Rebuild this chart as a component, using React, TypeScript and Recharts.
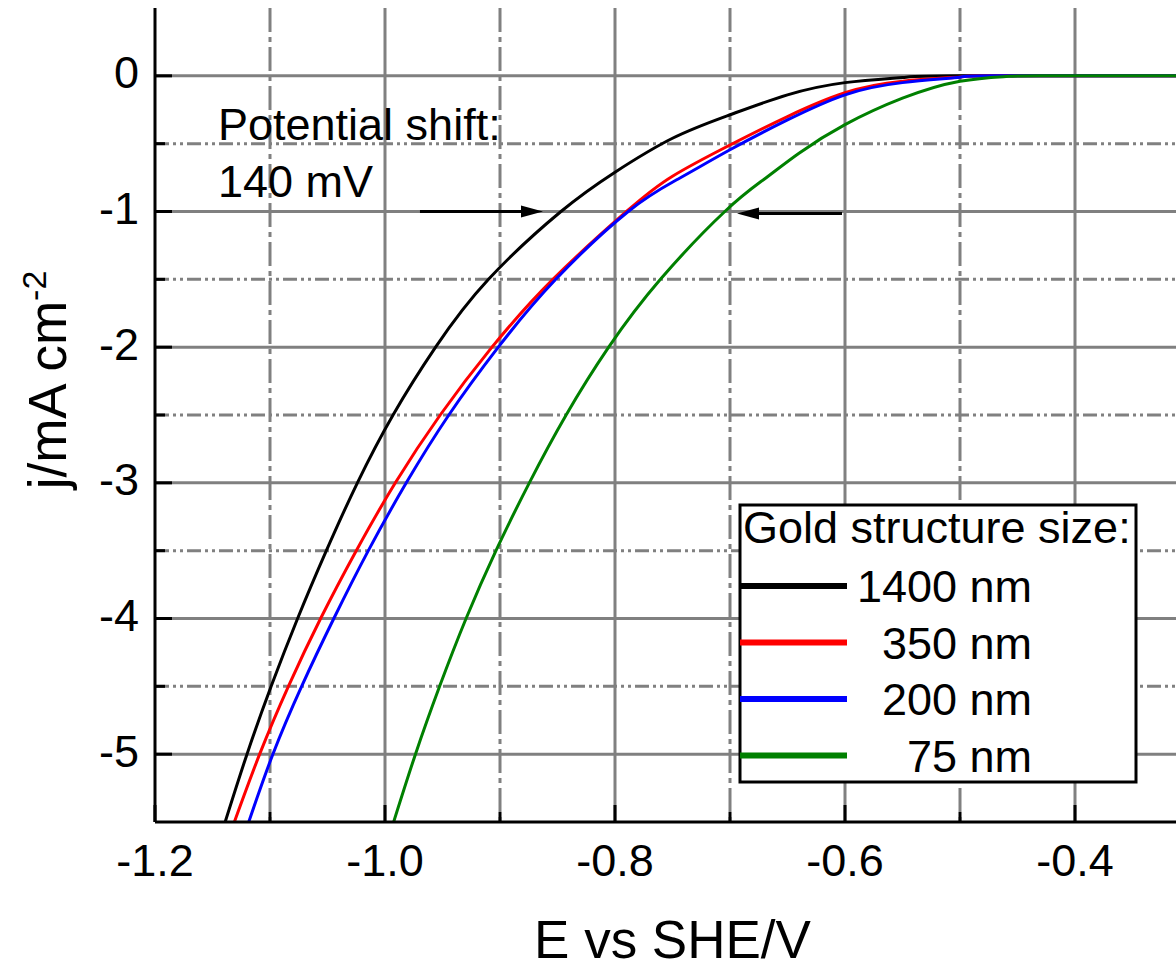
import React from "react";
import {
  LineChart, Line, XAxis, YAxis, CartesianGrid, Legend,
  ReferenceLine, Customized, Label,
} from "recharts";

const FONT = "'Liberation Sans', Arial, Helvetica, sans-serif";

// polarisation curves, E vs SHE / V and current density j / mA cm^-2
const E_1400 = [-1.139, -1.12, -1.099, -1.076, -1.051, -1.024, -0.993, -0.956, -0.91, -0.847, -0.8, -0.75, -0.7, -0.65, -0.6, -0.55, -0.5, -0.3];
const J_1400 = [-5.5, -5.0, -4.5, -4.0, -3.5, -3.0, -2.5, -2.0, -1.5, -1.0, -0.71, -0.46, -0.287, -0.14, -0.05, -0.012, 0, 0];

const E_350 = [-1.131, -1.109, -1.084, -1.056, -1.025, -0.991, -0.952, -0.907, -0.854, -0.79, -0.75, -0.7, -0.65, -0.6, -0.55, -0.5, -0.47, -0.3];
const J_350 = [-5.5, -5.0, -4.5, -4.0, -3.5, -3.0, -2.5, -2.0, -1.5, -1.0, -0.74, -0.51, -0.3, -0.125, -0.04, -0.008, 0, 0];

const E_200 = [-1.1185, -1.0975, -1.0725, -1.0445, -1.0145, -0.9815, -0.9445, -0.9015, -0.8515, -0.7885, -0.745, -0.7, -0.65, -0.6, -0.55, -0.5, -0.47, -0.3];
const J_200 = [-5.5, -5.0, -4.5, -4.0, -3.5, -3.0, -2.5, -2.0, -1.5, -1.0, -0.76, -0.545, -0.325, -0.14, -0.05, -0.01, 0, 0];

const E_75 = [-0.9925, -0.9735, -0.9525, -0.9295, -0.9035, -0.8745, -0.8425, -0.8055, -0.7605, -0.7045, -0.67, -0.64, -0.6, -0.55, -0.5, -0.46, -0.43, -0.3];
const J_75 = [-5.5, -5.0, -4.5, -4.0, -3.5, -3.0, -2.5, -2.0, -1.5, -1.0, -0.76, -0.57, -0.36, -0.165, -0.04, -0.005, 0, 0];

const X_TICKS = [-1.2, -1.1, -1.0, -0.9, -0.8, -0.7, -0.6, -0.5, -0.4, -0.3];
const Y_TICKS = [0, -0.5, -1, -1.5, -2, -2.5, -3, -3.5, -4, -4.5, -5];
const X_MAJOR_GRID = [-1.0, -0.8, -0.6, -0.4];
const X_MINOR_GRID = [-1.1, -0.9, -0.7, -0.5];
const Y_MAJOR_GRID = [0, -1, -2, -3, -4, -5];
const Y_MINOR_GRID = [-0.5, -1.5, -2.5, -3.5, -4.5];

const toPoints = (es: number[], js: number[]) => es.map((e, i) => ({ e, j: js[i] }));

const SERIES = [
  { name: "1400 nm", color: "#000000", data: toPoints(E_1400, J_1400) },
  { name: "350 nm", color: "#ff0000", data: toPoints(E_350, J_350) },
  { name: "200 nm", color: "#0000ff", data: toPoints(E_200, J_200) },
  { name: "75 nm", color: "#008000", data: toPoints(E_75, J_75) },
];
const SERIES_ORDER = SERIES.map((s) => s.name);

const isMajorX = (v: number) => Math.round(Math.abs(v) * 10) % 2 === 0;
const isMajorY = (v: number) => Number.isInteger(v);

function BottomTick({ x, y, payload }: any) {
  const major = isMajorX(payload.value);
  return (
    <g>
      <line x1={x} y1={y} x2={x} y2={y - (major ? 17 : 10)} stroke="#000" strokeWidth={3} />
      {major && (
        <text x={x} y={y + 54} textAnchor="middle" fontSize={45} fontFamily={FONT} fill="#000">
          {payload.value.toFixed(1)}
        </text>
      )}
    </g>
  );
}

function TopTick({ x, y, payload }: any) {
  const major = isMajorX(payload.value);
  return <line x1={x} y1={y} x2={x} y2={y + (major ? 17 : 10)} stroke="#000" strokeWidth={3} />;
}

function LeftTick({ x, y, payload }: any) {
  const major = isMajorY(payload.value);
  return (
    <g>
      <line x1={x} y1={y} x2={x + (major ? 17 : 10)} y2={y} stroke="#000" strokeWidth={3} />
      {major && (
        <text x={x - 16} y={y + 12.5} textAnchor="end" fontSize={45} fontFamily={FONT} fill="#000">
          {payload.value === 0 ? "0" : String(payload.value)}
        </text>
      )}
    </g>
  );
}

function Arrow({ x1, y1, x2, y2 }: any) {
  const dx = x2 - x1;
  const dy = y2 - y1;
  const len = Math.hypot(dx, dy) || 1;
  const ux = dx / len;
  const uy = dy / len;
  const head = 22;
  const half = 6;
  const bx = x2 - ux * head;
  const by = y2 - uy * head;
  return (
    <g>
      <line x1={x1} y1={y1} x2={bx + ux * 2} y2={by + uy * 2} stroke="#000" strokeWidth={3} />
      <polygon
        points={`${x2},${y2} ${bx - uy * half},${by + ux * half} ${bx + uy * half},${by - ux * half}`}
        fill="#000"
      />
    </g>
  );
}

function SizeLegend({ payload }: any) {
  const items = [...(payload || [])].sort(
    (a: any, b: any) => SERIES_ORDER.indexOf(a.value) - SERIES_ORDER.indexOf(b.value)
  );
  return (
    <svg width={400} height={281} style={{ display: "block" }}>
      <rect x={2} y={2} width={396} height={277} fill="#fff" stroke="#000" strokeWidth={3} />
      <text x={5} y={40} fontSize={45} fontFamily={FONT} fill="#000">Gold structure size:</text>
      {items.map((item: any, i: number) => {
        const cy = 83 + i * 56.5;
        return (
          <g key={item.value}>
            <line x1={2} y1={cy} x2={109} y2={cy} stroke={item.color} strokeWidth={6} />
            <text x={294} y={cy + 16} textAnchor="end" fontSize={45} fontFamily={FONT} fill="#000">
              {item.value}
            </text>
          </g>
        );
      })}
    </svg>
  );
}

function ShiftNote() {
  return (
    <g fontFamily={FONT} fontSize={45} fill="#000">
      <text x={218} y={140}>Potential shift:</text>
      <text x={218} y={197}>140 mV</text>
    </g>
  );
}

export default function App() {
  return (
    <div
      style={{
        position: "absolute", left: 0, top: 0, width: 1176, height: 963,
        overflow: "hidden", background: "#fff",
      }}
    >
      <LineChart width={1300} height={963} margin={{ top: 8, right: 110, bottom: 0, left: 0 }}>
        <CartesianGrid
          stroke="#808080" strokeWidth={3} syncWithTicks
          verticalValues={X_MAJOR_GRID} horizontalValues={Y_MAJOR_GRID}
        />
        <CartesianGrid
          horizontal={false} stroke="#808080" strokeWidth={3} strokeDasharray="24 5 5 5"
          syncWithTicks verticalValues={X_MINOR_GRID}
        />
        <CartesianGrid
          vertical={false} stroke="#808080" strokeWidth={3} strokeDasharray="14 4 3 4 3 4"
          syncWithTicks horizontalValues={Y_MINOR_GRID}
        />
        <XAxis
          type="number" dataKey="e" domain={[-1.2, -0.3]} allowDataOverflow
          ticks={X_TICKS} interval={0} height={141} tickSize={0} tickMargin={0}
          tickLine={false} axisLine={{ stroke: "#000", strokeWidth: 3 }} tick={<BottomTick />}
        >
          <Label
            content={(p: any) => {
              const vb = p.viewBox;
              return (
                <text
                  x={vb.x + vb.width / 2} y={vb.y + vb.height - 5} textAnchor="middle"
                  fontSize={53} fontFamily={FONT} fill="#000"
                >
                  E vs SHE/V
                </text>
              );
            }}
          />
        </XAxis>
        <XAxis
          xAxisId="top" orientation="top" type="number" domain={[-1.2, -0.3]} allowDataOverflow
          ticks={X_TICKS} interval={0} height={0} tickSize={0} tickMargin={0}
          tickLine={false} axisLine={{ stroke: "#000", strokeWidth: 3 }} tick={<TopTick />}
        />
        <YAxis
          type="number" domain={[-5.5, 0.5]} allowDataOverflow ticks={Y_TICKS} interval={0}
          width={155} tickSize={0} tickMargin={0} tickLine={false}
          axisLine={{ stroke: "#000", strokeWidth: 3 }} tick={<LeftTick />}
        >
          <Label
            content={(p: any) => {
              const vb = p.viewBox;
              const cx = vb.x + 66;
              const cy = vb.y + vb.height / 2 - 35;
              return (
                <text
                  x={cx} y={cy} transform={`rotate(-90, ${cx}, ${cy})`} textAnchor="middle"
                  fontSize={53} fontFamily={FONT} fill="#000"
                >
                  j/mA cm<tspan dy={-20} fontSize={34}>-2</tspan>
                </text>
              );
            }}
          />
        </YAxis>
        {SERIES.map((s) => (
          <Line
            key={s.name} name={s.name} data={s.data} dataKey="j" type="natural"
            stroke={s.color} strokeWidth={3} dot={false} activeDot={false}
            isAnimationActive={false}
          />
        ))}
        <ReferenceLine
          segment={[{ x: -0.9696, y: -1 }, { x: -0.8626, y: -1 }]} shape={Arrow}
        />
        <ReferenceLine
          segment={[{ x: -0.6026, y: -1.015 }, { x: -0.6939, y: -1.015 }]} shape={Arrow}
        />
        <Customized component={ShiftNote} />
        <Legend
          layout="vertical" align="center" verticalAlign="middle"
          content={<SizeLegend />}
          wrapperStyle={{ position: "absolute", left: 738, top: 503, width: 400, height: 281 }}
        />
      </LineChart>
    </div>
  );
}
